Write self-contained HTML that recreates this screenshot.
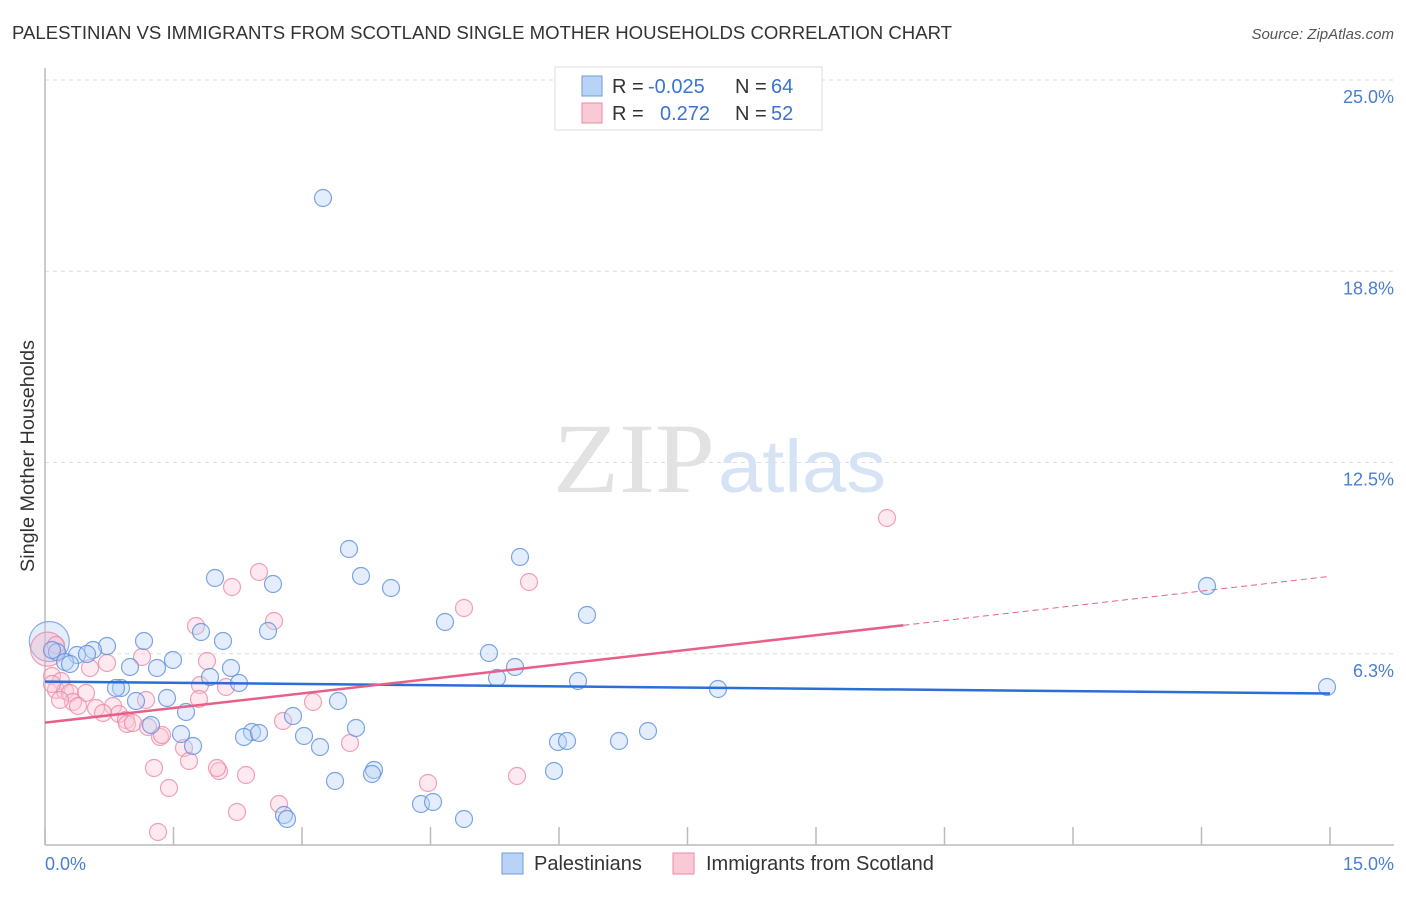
<!DOCTYPE html>
<html><head><meta charset="utf-8"><style>
body{margin:0;background:#fff;font-family:"Liberation Sans",sans-serif}
</style></head><body>
<svg width="1406" height="892" xmlns="http://www.w3.org/2000/svg" font-family="Liberation Sans, sans-serif">
<text x="12" y="39" font-size="18" fill="#333" textLength="940" lengthAdjust="spacingAndGlyphs">PALESTINIAN VS IMMIGRANTS FROM SCOTLAND SINGLE MOTHER HOUSEHOLDS CORRELATION CHART</text>
<text x="1394" y="39" font-size="15" fill="#555" text-anchor="end" font-style="italic">Source: ZipAtlas.com</text>
<g id="grid"></g>
<text x="553" y="492" font-size="100" fill="#e2e2e2" font-family="Liberation Serif, serif" textLength="162" lengthAdjust="spacingAndGlyphs">ZIP</text>
<text x="718" y="492" font-size="74" fill="#d6e3f4" textLength="168" lengthAdjust="spacingAndGlyphs">atlas</text>
<line x1="45" y1="68" x2="45" y2="845" stroke="#bbb" stroke-width="1.5"/>
<line x1="45" y1="845" x2="1394" y2="845" stroke="#bbb" stroke-width="1.5"/>
<g id="ticks"></g>
<g id="pts"></g>
<g id="trends"></g>
<text x="34" y="456" font-size="19" fill="#333" text-anchor="middle" transform="rotate(-90 34 456)" textLength="232" lengthAdjust="spacingAndGlyphs">Single Mother Households</text>
<text x="45" y="870" font-size="18" fill="#4a7fd0">0.0%</text>
<text x="1394" y="870" font-size="18" fill="#4a7fd0" text-anchor="end">15.0%</text>
<g>
<rect x="555" y="67" width="267" height="63" fill="#fff" stroke="#ddd"/>
<rect x="582" y="76" width="20" height="20" fill="#b9d3f6" stroke="#6d9be0"/>
<rect x="582" y="103" width="20" height="20" fill="#f9c9d6" stroke="#eb8aa5"/>
<text x="612" y="93" font-size="20" fill="#333">R = <tspan x="648" fill="#3b73d3">-0.025</tspan><tspan x="735">N = </tspan><tspan x="771" fill="#3b73d3">64</tspan></text>
<text x="612" y="120" font-size="20" fill="#333">R = <tspan x="660" fill="#3b73d3">0.272</tspan><tspan x="735">N = </tspan><tspan x="771" fill="#3b73d3">52</tspan></text>
</g>
<g>
<rect x="502" y="853" width="21" height="21" fill="#b9d3f6" stroke="#6d9be0"/>
<text x="534" y="870" font-size="20" fill="#333">Palestinians</text></g>
<g>
<rect x="673" y="853" width="21" height="21" fill="#f9c9d6" stroke="#eb8aa5"/>
<text x="706" y="870" font-size="20" fill="#333">Immigrants from Scotland</text></g>
</svg>
<script>
const yTicks=[25.0,18.75,12.5,6.25];
const yTickLabels=["25.0%","18.8%","12.5%","6.3%"];
const xTicks=[0,1.5,3,4.5,6,7.5,9,10.5,12,13.5,15];
const bluePx=[[323,198],[349,549],[520,557],[215,578],[273,584],[361,576],[391,588],[1207,586],[587,615],[445,622],[268,631],[144,641],[223,641],[201,632],[107,646],[93,650],[57,652],[77,655],[87,654],[65,662],[70,664],[173,660],[130,667],[157,668],[231,668],[489,653],[515,667],[210,677],[239,683],[497,678],[578,681],[718,689],[1327,687],[121,688],[116,688],[167,698],[136,701],[338,701],[186,712],[293,716],[356,728],[151,725],[181,734],[252,732],[244,737],[259,733],[304,736],[193,746],[320,747],[558,742],[567,741],[619,741],[648,731],[374,770],[372,774],[554,771],[335,781],[421,804],[433,802],[284,815],[287,819],[464,819],[52,650]];
const pinkPx=[[887,518],[259,572],[232,587],[529,582],[464,608],[274,621],[196,626],[142,657],[107,663],[207,661],[90,668],[52,676],[61,681],[56,690],[65,691],[70,693],[86,693],[200,685],[226,687],[146,700],[73,702],[78,706],[96,708],[113,706],[119,714],[126,720],[103,713],[127,724],[133,723],[148,727],[160,737],[162,735],[199,699],[313,702],[283,721],[184,748],[350,743],[189,761],[154,768],[246,775],[219,771],[217,768],[169,788],[428,783],[517,776],[279,804],[237,812],[158,832],[56,645],[52,684],[60,700]];
const toVal=p=>[(p[0]-45)*15/1285,(845-p[1])*25/765];
const blueData=bluePx.map(toVal);
const pinkData=pinkPx.map(toVal);
const bigBlue=[0.05,6.65], bigPink=[0.03,6.4];
const blueTrend=[[0,5.34],[15,4.95]];
const pinkTrend=[[0,4.0],[10.02,7.18],[15,8.78]];
const X=v=>45+v/15*1285, Y=v=>845-v/25*765;
const NS="http://www.w3.org/2000/svg";
function mk(t,a,p){const e=document.createElementNS(NS,t);for(const k in a)e.setAttribute(k,a[k]);p.appendChild(e);return e;}
const grid=document.getElementById('grid');
yTicks.forEach((v,i)=>{
 const l=mk('line',{x1:45,x2:1394,y1:Y(v),y2:Y(v),stroke:'#ddd','stroke-dasharray':'4,4'},grid);
 
 
 const t=mk('text',{x:1394,y:Y(v)+23,'font-size':18,fill:'#4a7fd0','text-anchor':'end'},grid);
 t.textContent=yTickLabels[i];
 
 
});
const tk=document.getElementById('ticks');
xTicks.forEach(v=>{const l=mk('line',{x1:X(v),x2:X(v),y1:827,y2:845,stroke:'#bbb','stroke-width':1.5},tk);
 
 });
const pts=document.getElementById('pts');
function dot(d,r,fill,stroke,name){const c=mk('circle',{cx:X(d[0]),cy:Y(d[1]),r:r,fill:fill,'fill-opacity':0.4,stroke:stroke,'stroke-opacity':0.8,'stroke-width':1.2},pts);
 
 }
dot(bigBlue,20,'#b9d3f6','#6d9be0','palestinians-point');
dot(bigPink,17,'#f4b3c6','#eb8aa5','immigrants-point');
pinkData.forEach(d=>dot(d,8.5,'#f9c9d6','#eb8aa5','immigrants-point'));
blueData.forEach(d=>dot(d,8.5,'#b9d3f6','#5b8ee0','palestinians-point'));
const tr=document.getElementById('trends');
let l=mk('line',{x1:X(blueTrend[0][0]),y1:Y(blueTrend[0][1]),x2:X(blueTrend[1][0]),y2:Y(blueTrend[1][1]),stroke:'#2a6fd6','stroke-width':2.5},tr);


l=mk('line',{x1:X(pinkTrend[0][0]),y1:Y(pinkTrend[0][1]),x2:X(pinkTrend[1][0]),y2:Y(pinkTrend[1][1]),stroke:'#e8608a','stroke-width':2.5},tr);


l=mk('line',{x1:X(pinkTrend[1][0]),y1:Y(pinkTrend[1][1]),x2:X(pinkTrend[2][0]),y2:Y(pinkTrend[2][1]),stroke:'#e8608a','stroke-width':1,'stroke-dasharray':'6,4'},tr);


</script>
</body></html>
